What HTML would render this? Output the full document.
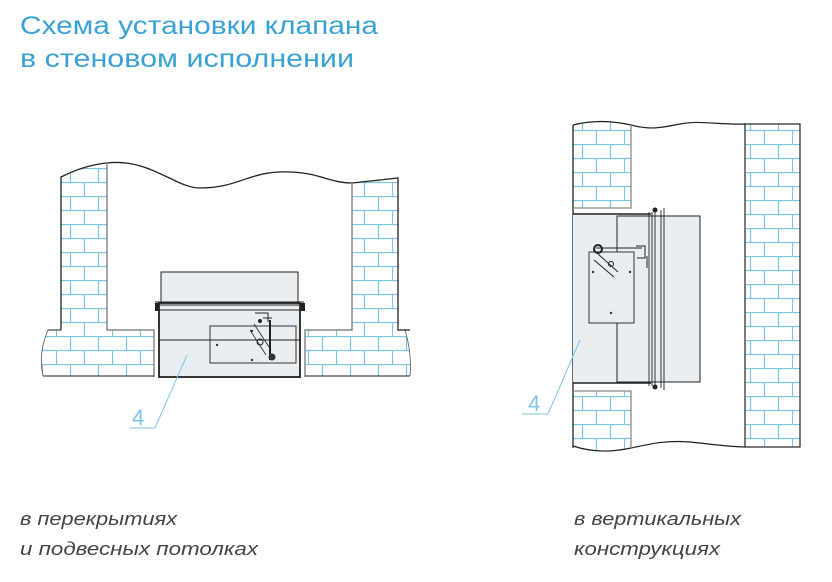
<!DOCTYPE html>
<html><head><meta charset="utf-8"><style>html,body{margin:0;padding:0;background:#fff}svg{display:block}</style></head>
<body>
<svg width="832" height="582" viewBox="0 0 832 582" xmlns="http://www.w3.org/2000/svg">
<defs>
<pattern id="br" width="56" height="28" patternUnits="userSpaceOnUse">
<rect width="56" height="28" fill="#fff"/>
<path d="M0 0.5H56M0 14.5H56M14.5 0V14M42.5 0V14M0.5 14V28M28.5 14V28" stroke="#7cc6e6" stroke-width="1.2" fill="none"/>
</pattern>
<pattern id="br2" width="56" height="28" patternUnits="userSpaceOnUse" x="8" y="4">
<rect width="56" height="28" fill="#fff"/>
<path d="M0 0.5H56M0 14.5H56M14.5 0V14M42.5 0V14M0.5 14V28M28.5 14V28" stroke="#7cc6e6" stroke-width="1.2" fill="none"/>
</pattern>
</defs>
<g font-family="Liberation Sans, DejaVu Sans, sans-serif" fill="#3aa2d3">
<text x="20" y="34" font-size="25" textLength="358" lengthAdjust="spacingAndGlyphs">Схема установки клапана</text>
<text x="20" y="67" font-size="25" textLength="334" lengthAdjust="spacingAndGlyphs">в стеновом исполнении</text>
</g>

<!-- LEFT DIAGRAM -->
<path d="M61 177 Q85 165 107 163 L107 330 L61 330 Z" fill="url(#br)"/>
<path d="M352 183 L398 178 L398 330 L352 330 Z" fill="url(#br)"/>
<path d="M48 330 L154 330 L154 376 L43 376 Q38 353 48 330Z" fill="url(#br)"/>
<path d="M305 330 L405 330 Q412 353 410 376 L305 376 Z" fill="url(#br)"/>
<path d="M61 330 L61 177 Q85 165 107 163 C150 158 175 188 200 188 C240 188 250 170 290 172 C320 173 330 183 352 183 L398 178 L398 330 L410 330" fill="none" stroke="#222" stroke-width="1.3"/>
<path d="M107 163 L107 330 L154 330 L154 377 M352 183 L352 330 L305 330 L305 377" fill="none" stroke="#888" stroke-width="1.5"/>
<path d="M48 330 L61 330 M43 376 L154 376 M305 376 L410 376" stroke="#222" stroke-width="1"/>
<path d="M48 330 Q38 353 43 376 M405 330 Q412 353 410 376" stroke="#555" fill="none" stroke-width="0.8"/>
<!-- damper -->
<rect x="161" y="272" width="137" height="31" fill="#e9eef2" stroke="#222" stroke-width="1"/>
<rect x="159" y="303" width="141" height="74" fill="#e9eef2" stroke="#222" stroke-width="1.8"/>
<path d="M155 302 H304 M155 305 H304 M155 310 H304 M159 340 H300" stroke="#222" stroke-width="0.9"/>
<rect x="155" y="303" width="4" height="8" fill="#222"/><rect x="301" y="303" width="4" height="8" fill="#222"/>
<rect x="210" y="326" width="86" height="37" fill="none" stroke="#222" stroke-width="0.9"/>
<path d="M254 324 L271 350 M250 330 L266 355" stroke="#222" stroke-width="0.8"/>
<path d="M270 320 V360" stroke="#222" stroke-width="2"/>
<circle cx="272" cy="357" r="3.5" fill="#333"/><circle cx="260" cy="342" r="3" fill="none" stroke="#222"/>
<path d="M255 313 H268 V322 M263 318 H272" stroke="#222" stroke-width="1" fill="none"/>
<circle cx="260" cy="321" r="2" fill="#222"/>
<circle cx="252" cy="331" r="1.2" fill="#333"/><circle cx="217" cy="345" r="1.2" fill="#333"/><circle cx="252" cy="360" r="1.2" fill="#333"/>
<path d="M130 428 H155 L187 355" stroke="#7cc6e6" fill="none" stroke-width="1"/>
<text x="132" y="425" font-family="Liberation Sans, sans-serif" font-size="22" fill="#7cc6e6">4</text>

<!-- RIGHT DIAGRAM -->
<path d="M573 125 Q600 118 631 125 L631 208 L573 208 Z" fill="url(#br2)"/>
<rect x="745" y="124" width="55" height="323" fill="url(#br2)" stroke="#222" stroke-width="1.2"/>
<path d="M573 391 L631 391 L631 448 Q600 455 573 446 Z" fill="url(#br2)"/>
<path d="M573 125 Q600 118 631 125 C650 130 660 128 680 124 C700 120 720 125 745 124" fill="none" stroke="#222" stroke-width="1.2"/>
<path d="M573 446 Q600 455 631 448 C650 444 665 440 690 442 C710 444 730 447 745 447" fill="none" stroke="#222" stroke-width="1.2"/>
<path d="M573 125 V448" stroke="#222" stroke-width="1.3"/>
<path d="M573 208 H631 V125 M573 391 H631 V448" stroke="#888" fill="none" stroke-width="1.3"/>
<!-- damper -->
<rect x="573" y="214" width="78" height="169" fill="#e9eef2"/>
<path d="M573 214 H651 M573 383 H651" stroke="#222" stroke-width="1.5"/>
<rect x="617" y="216" width="83" height="166" fill="#e9eef2" stroke="#222" stroke-width="1"/>
<path d="M649 212 V386 M652 212 V386 M655 212 V386 M661 210 V388 M664 208 V390" stroke="#222" stroke-width="0.9"/>
<circle cx="655" cy="210" r="2.5" fill="#222"/><circle cx="655" cy="387" r="2.5" fill="#222"/>
<rect x="589" y="252" width="45" height="71" fill="#e9eef2" stroke="#222" stroke-width="0.9"/>
<path d="M596 248 H642 M598 254 L618 272 M594 260 L614 277" stroke="#222" stroke-width="1"/>
<circle cx="598" cy="249" r="4" fill="none" stroke="#222" stroke-width="2"/>
<circle cx="611" cy="264" r="2.5" fill="none" stroke="#222"/>
<path d="M636 246 H645 V258 H637 M647 256 V268" stroke="#222" fill="none"/>
<circle cx="593" cy="272" r="1.2" fill="#333"/><circle cx="630" cy="272" r="1.2" fill="#333"/><circle cx="611" cy="313" r="1.2" fill="#333"/>
<path d="M522 414 H548 L580 340" stroke="#7cc6e6" fill="none" stroke-width="1"/>
<text x="528" y="411" font-family="Liberation Sans, sans-serif" font-size="22" fill="#7cc6e6">4</text>

<g font-family="Liberation Sans, DejaVu Sans, sans-serif" font-size="18" font-style="italic" fill="#444">
<text x="20" y="525" textLength="157" lengthAdjust="spacingAndGlyphs">в перекрытиях</text>
<text x="20" y="555" textLength="238" lengthAdjust="spacingAndGlyphs">и подвесных потолках</text>
<text x="574" y="525" textLength="167" lengthAdjust="spacingAndGlyphs">в вертикальных</text>
<text x="574" y="555" textLength="146" lengthAdjust="spacingAndGlyphs">конструкциях</text>
</g>
</svg>
</body></html>
